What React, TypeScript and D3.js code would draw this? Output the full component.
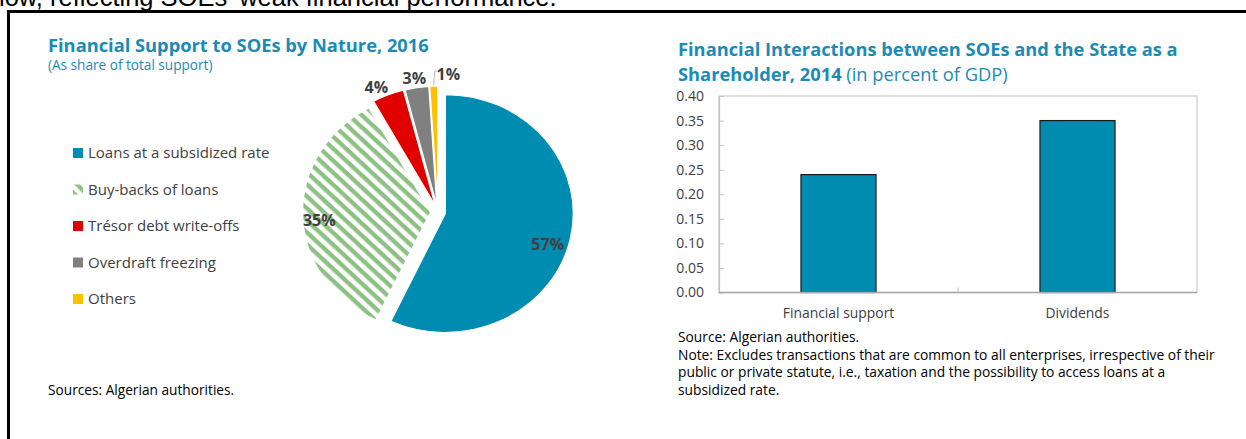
import * as d3 from 'd3';
import { useEffect, useRef } from 'react';

// pie: financial support by nature, 2016 (share of total)
const pieCategories = [
  'Loans at a subsidized rate',
  'Buy-backs of loans',
  'Trésor debt write-offs',
  'Overdraft freezing',
  'Others',
];
const pieShares = [57, 35, 4, 3, 1];
const pieColors = ['#008bb0', 'url(#hatch)', '#e00000', '#808080', '#ffc000'];

// bars: interactions with the state, 2014 (percent of GDP)
const barCategories = ['Financial support', 'Dividends'];
const barValues = [0.24, 0.35];
const yTicks = [0, 0.05, 0.1, 0.15, 0.2, 0.25, 0.3, 0.35, 0.4];

const noteLines = [
  'Source: Algerian authorities.',
  'Note: Excludes transactions that are common to all enterprises, irrespective of their',
  'public or private statute, i.e., taxation and the possibility to access loans at a',
  'subsidized rate.',
];

const FONT = '"Open Sans", "Noto Sans", sans-serif';
const TEAL_TEXT = '#1b8bb6';
const GREY_TEXT = '#404040';

export default function App() {
  const ref = useRef<SVGSVGElement>(null);

  useEffect(() => {
    if (!ref.current) return;
    const svg = d3.select(ref.current);
    svg.selectAll('*').remove();
    svg.style('font-family', FONT);

    const defs = svg.append('defs');
    const hatch = defs
      .append('pattern')
      .attr('id', 'hatch')
      .attr('patternUnits', 'userSpaceOnUse')
      .attr('width', 8.5)
      .attr('height', 8.5)
      .attr('patternTransform', 'rotate(45)');
    hatch.append('rect').attr('width', 8.5).attr('height', 8.5).attr('fill', '#fff');
    hatch.append('rect').attr('width', 8.5).attr('height', 4.2).attr('fill', '#8dc183');

    // cut-off paragraph text above the box
    svg
      .append('text')
      .attr('x', -1)
      .attr('y', 5.5)
      .attr('font-size', 25.5)
      .attr('fill', '#000')
      .style('font-family', '"Liberation Sans", sans-serif')
      .text("low, reflecting SOEs' weak financial performance.");

    // box border
    svg
      .append('path')
      .attr('d', 'M8.5,460 V11.5 H1260')
      .attr('fill', 'none')
      .attr('stroke', '#000')
      .attr('stroke-width', 3);

    // ---------- left panel: pie ----------
    svg
      .append('text')
      .attr('x', 48)
      .attr('y', 52)
      .attr('font-size', 18.3)
      .attr('font-weight', 700)
      .attr('fill', TEAL_TEXT)
      .text('Financial Support to SOEs by Nature, 2016');
    svg
      .append('text')
      .attr('x', 48)
      .attr('y', 70)
      .attr('font-size', 13.6)
      .attr('fill', TEAL_TEXT)
      .text('(As share of total support)');

    const R = 119;
    const cx = 438,
      cy = 212,
      sx = 1.075;
    const explode = 7;

    const pie = d3
      .pie<number>()
      .sort(null)
      .value((d) => d);
    const arcs = pie(pieShares);
    const arc = d3.arc<d3.PieArcDatum<number>>().innerRadius(0).outerRadius(R);

    const mid = (d: d3.PieArcDatum<number>) => (d.startAngle + d.endAngle) / 2;

    const pieG = svg.append('g').attr('transform', `translate(${cx},${cy}) scale(${sx},1)`);
    pieG
      .selectAll('path')
      .data(arcs)
      .join('path')
      .attr('d', arc)
      .attr('transform', (d) => {
        const a = mid(d);
        return `translate(${Math.sin(a) * explode},${-Math.cos(a) * explode})`;
      })
      .attr('fill', (_, i) => pieColors[i])
      .attr('stroke', '#fff')
      .attr('stroke-width', 1.2)
      .attr('vector-effect', 'non-scaling-stroke');

    // data labels: inside for big slices, outside for small ones
    const labelRadius = [0.82 * R, 0.87 * R, R + 12, R + 9, R + 12];
    const labelNudge = [
      [0, 10],
      [0, 5],
      [-7, 4],
      [-1, 0],
      [15, 0],
    ];
    const labelPos = arcs.map((d, i) => {
      const a = mid(d);
      const r = labelRadius[i] + explode;
      return [
        cx + Math.sin(a) * r * sx + labelNudge[i][0],
        cy - Math.cos(a) * r + labelNudge[i][1],
      ];
    });

    // leader line for the 1% slice
    const last = arcs[arcs.length - 1];
    const la = mid(last);
    const lx = cx + Math.sin(la) * (R + explode) * sx;
    const ly = cy - Math.cos(la) * (R + explode);
    svg
      .append('polyline')
      .attr('points', `${lx},${ly - 1} ${lx + 1},${labelPos[4][1] - 3} ${labelPos[4][0] - 11},${labelPos[4][1] - 3}`)
      .attr('fill', 'none')
      .attr('stroke', '#a6a6a6')
      .attr('stroke-width', 0.8);

    svg
      .append('g')
      .selectAll('text')
      .data(arcs)
      .join('text')
      .attr('x', (_, i) => labelPos[i][0])
      .attr('y', (_, i) => labelPos[i][1])
      .attr('dy', '0.35em')
      .attr('text-anchor', 'middle')
      .attr('font-size', 16)
      .attr('font-weight', 700)
      .attr('fill', GREY_TEXT)
      .text((d) => `${d.data}%`);

    // legend
    const legendY = d3.scalePoint<string>().domain(pieCategories).range([153, 299]);
    const legend = svg
      .append('g')
      .selectAll('g')
      .data(pieCategories)
      .join('g')
      .attr('transform', (d) => `translate(73,${legendY(d)})`);
    legend
      .append('rect')
      .attr('x', 0)
      .attr('y', -5)
      .attr('width', 10)
      .attr('height', 10)
      .attr('fill', (_, i) => pieColors[i]);
    legend
      .append('text')
      .attr('x', 15)
      .attr('dy', '0.35em')
      .attr('font-size', 15)
      .attr('fill', GREY_TEXT)
      .text((d) => d);

    svg
      .append('text')
      .attr('x', 48)
      .attr('y', 395)
      .attr('font-size', 13.7)
      .attr('fill', '#000')
      .text('Sources: Algerian authorities.');

    // ---------- right panel: bars ----------
    const t1 = svg
      .append('text')
      .attr('x', 678)
      .attr('y', 56)
      .attr('font-size', 18.3)
      .attr('font-weight', 700)
      .attr('fill', TEAL_TEXT);
    t1.text('Financial Interactions between SOEs and the State as a');
    const t2 = svg
      .append('text')
      .attr('x', 678)
      .attr('y', 81)
      .attr('font-size', 18.3)
      .attr('fill', TEAL_TEXT);
    t2.append('tspan').attr('font-weight', 700).text('Shareholder, 2014');
    t2.append('tspan').text(' (in percent of GDP)');

    const left = 719,
      right = 1197,
      top = 96,
      bottom = 292.5;

    const x = d3
      .scaleBand<string>()
      .domain(barCategories)
      .range([left, right])
      .paddingInner(0.686)
      .paddingOuter(0.343);
    const y = d3.scaleLinear().domain([0, 0.4]).range([bottom, top]);

    svg
      .append('rect')
      .attr('x', left)
      .attr('y', top)
      .attr('width', right - left)
      .attr('height', bottom - top)
      .attr('fill', 'none')
      .attr('stroke', '#c8c8c8')
      .attr('stroke-width', 1.2);

    svg
      .append('g')
      .selectAll('rect')
      .data(barValues)
      .join('rect')
      .attr('x', (_, i) => x(barCategories[i]) ?? 0)
      .attr('y', (d) => y(d))
      .attr('width', x.bandwidth())
      .attr('height', (d) => bottom - y(d))
      .attr('fill', '#008bb0')
      .attr('stroke', '#1a1a1a')
      .attr('stroke-width', 1.2);

    const yAxis = d3
      .axisLeft(y)
      .tickValues(yTicks)
      .tickFormat(d3.format('.2f'))
      .tickSizeInner(-5)
      .tickSizeOuter(0)
      .tickPadding(15);
    const yg = svg.append('g').attr('transform', `translate(${left},0)`).call(yAxis);
    yg.select('.domain').attr('stroke', '#bfbfbf').attr('stroke-width', 1.2);
    yg.selectAll('.tick line').attr('stroke', '#bfbfbf');
    yg.selectAll('.tick text')
      .attr('font-size', 14)
      .attr('fill', GREY_TEXT)
      .style('font-family', FONT);

    // category axis
    const xg = svg.append('g');
    xg.append('line')
      .attr('x1', left)
      .attr('x2', right)
      .attr('y1', bottom)
      .attr('y2', bottom)
      .attr('stroke', '#a6a6a6')
      .attr('stroke-width', 1.5);
    xg.append('line')
      .attr('x1', left + x.step())
      .attr('x2', left + x.step())
      .attr('y1', bottom)
      .attr('y2', bottom - 5)
      .attr('stroke', '#bfbfbf');
    xg.selectAll('text')
      .data(barCategories)
      .join('text')
      .attr('x', (d) => (x(d) ?? 0) + x.bandwidth() / 2)
      .attr('y', 318)
      .attr('text-anchor', 'middle')
      .attr('font-size', 13.9)
      .attr('fill', GREY_TEXT)
      .text((d) => d);

    svg
      .append('g')
      .selectAll('text')
      .data(noteLines)
      .join('text')
      .attr('x', 678)
      .attr('y', (_, i) => 342 + i * 17.6)
      .attr('font-size', 13.8)
      .attr('fill', '#000')
      .text((d) => d);
  }, []);

  return (
    <svg
      ref={ref}
      width={1246}
      height={439}
      style={{ position: 'absolute', left: 0, top: 0, background: '#fff' }}
    />
  );
}
